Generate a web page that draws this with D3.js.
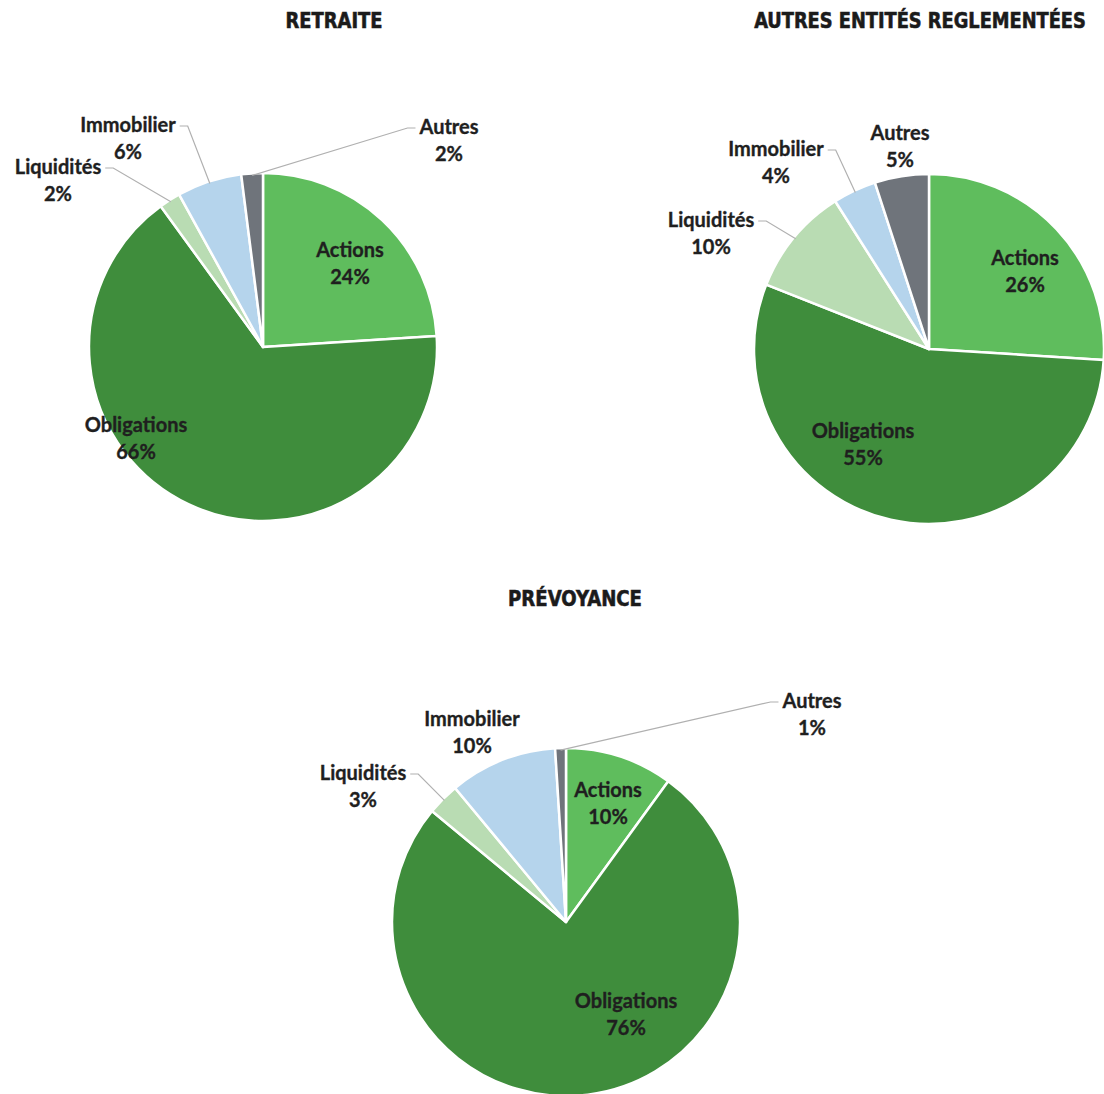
<!DOCTYPE html>
<html>
<head>
<meta charset="utf-8">
<script src="https://cdn.jsdelivr.net/npm/d3@7"></script>
<style>
  html, body { margin: 0; padding: 0; background: #ffffff; }
  svg { display: block; }
</style>
</head>
<body>
<svg id="chart" width="1104" height="1094"></svg>
<script>
// ---- data ----
const categories = ["Actions", "Obligations", "Liquidités", "Immobilier", "Autres"];
const titles = ["RETRAITE", "AUTRES ENTITÉS REGLEMENTÉES", "PRÉVOYANCE"];
const retraite = [24, 66, 2, 6, 2];
const autresEntites = [26, 55, 10, 4, 5];
const prevoyance = [10, 76, 3, 10, 1];

// ---- styles & layout ----
const sliceColors = ["#5fbd5d", "#3f8d3c", "#b9dcb3", "#b5d4ec", "#6f747b"];
const series = [retraite, autresEntites, prevoyance];

const layout = [
  { cx: 263, cy: 347, r: 174, title: { x: 334, y: 28, w: 97 },
    labels: [
      { x: 350, y: 257 }, { x: 136, y: 432 }, { x: 58, y: 174, leader: true },
      { x: 128, y: 132, leader: true }, { x: 449, y: 134, leader: true }
    ] },
  { cx: 929, cy: 349, r: 175, title: { x: 920, y: 28, w: 332 },
    labels: [
      { x: 1025, y: 265 }, { x: 863, y: 438 }, { x: 711, y: 227, leader: true },
      { x: 776, y: 156, leader: true }, { x: 900, y: 140 }
    ] },
  { cx: 566, cy: 922, r: 174, title: { x: 575, y: 606, w: 134 },
    labels: [
      { x: 608, y: 797 }, { x: 626, y: 1008 }, { x: 363, y: 780, leader: true },
      { x: 472, y: 726 }, { x: 812, y: 708, leader: true }
    ] }
];

const svg = d3.select("#chart");
const pie = d3.pie().sort(null).value(d => d);
const fmtPct = v => v + "%";

series.forEach((values, i) => {
  const L = layout[i];
  const arc = d3.arc().innerRadius(0).outerRadius(L.r);
  const g = svg.append("g");

  // title (scaled horizontally to the reference width)
  const tg = g.append("g");
  const tt = tg.append("text")
    .attr("x", 0).attr("y", 0)
    .attr("text-anchor", "middle")
    .style("font-family", "'Liberation Sans Narrow', 'DejaVu Sans Condensed', 'Roboto', sans-serif")
    .style("font-weight", "700")
    .style("font-size", "22px")
    .style("fill", "#1b1b1b")
    .style("stroke", "#1b1b1b")
    .style("stroke-width", "0.6px")
    .text(titles[i]);
  const nat = tt.node().getComputedTextLength();
  const sx = L.title.w / nat;
  tg.attr("transform", `translate(${L.title.x},${L.title.y}) scale(${sx},1)`);

  const arcs = pie(values);
  const pg = g.append("g").attr("transform", `translate(${L.cx},${L.cy})`);
  pg.selectAll("path")
    .data(arcs)
    .join("path")
    .attr("d", arc)
    .attr("fill", (d, k) => sliceColors[k])
    .attr("stroke", "#ffffff")
    .attr("stroke-width", 2.5)
    .attr("stroke-linejoin", "round");

  // labels
  arcs.forEach((a, k) => {
    const pos = L.labels[k];
    const t = g.append("text")
      .attr("x", pos.x).attr("y", pos.y)
      .attr("text-anchor", "middle")
      .style("font-family", "Lato, 'Open Sans', sans-serif")
      .style("font-weight", "700")
      .style("font-size", "20px")
      .style("fill", "#1f1f1f")
      .style("stroke", "#1f1f1f")
      .style("stroke-width", "0.35px");
    t.append("tspan").attr("x", pos.x).attr("dy", 0).text(categories[k]);
    t.append("tspan").attr("x", pos.x).attr("dy", 27).text(fmtPct(values[k]));

    if (pos.leader) {
      const w = t.select("tspan").node().getComputedTextLength();
      const mid = (a.startAngle + a.endAngle) / 2;
      const px = L.cx + (L.r - 2) * Math.sin(mid);
      const py = L.cy - (L.r - 2) * Math.cos(mid);
      const ly = pos.y - 6;
      let sx0, hx;
      if (px > pos.x) { sx0 = pos.x + w / 2 + 4; hx = sx0 + 8; }
      else { sx0 = pos.x - w / 2 - 4; hx = sx0 - 8; }
      g.append("path")
        .attr("d", d3.line()([[sx0, ly], [hx, ly], [px, py]]))
        .attr("fill", "none")
        .attr("stroke", "#b0b0b0")
        .attr("stroke-width", 1.2);
    }
  });
});
</script>
</body>
</html>
